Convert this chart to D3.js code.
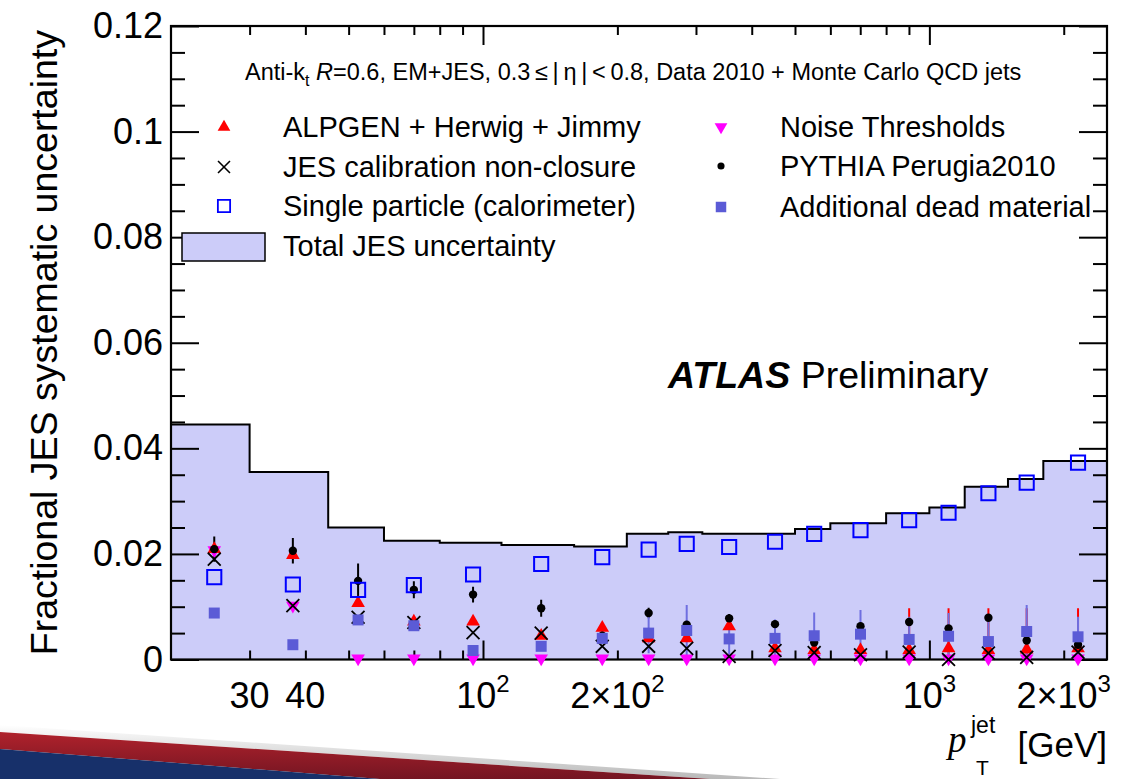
<!DOCTYPE html>
<html>
<head>
<meta charset="utf-8">
<script src="https://cdn.jsdelivr.net/npm/d3@7"></script>
<style>
  body { margin: 0; background: #fff; }
  svg { display: block; font-family: "Liberation Sans", Arial, Helvetica, sans-serif; }
</style>
</head>
<body>
<svg id="chart" width="1121" height="779"></svg>
<script>
// ---------------- DATA ----------------
const binEdges = [20, 30, 45, 60, 80, 110, 160, 210, 260, 310, 400, 500, 600, 800, 1000, 1200, 1500, 1800, 2500];
const binCenters = [25, 37.5, 52.5, 70, 95, 135, 185, 235, 286, 356, 451, 552, 701, 901, 1104, 1356, 1652, 2153];
const totalJES = [0.0445, 0.0355, 0.0250, 0.0225, 0.0221, 0.0217, 0.0214, 0.0238, 0.0241, 0.0238, 0.0238, 0.0247, 0.0258, 0.0277, 0.0288, 0.0327, 0.0342, 0.0376];
const singleParticle = [0.0156, 0.0142, 0.0132, 0.0141, 0.0161, 0.0181, 0.0194, 0.0208, 0.0219, 0.0213, 0.0223, 0.0238, 0.0245, 0.0264, 0.0278, 0.0315, 0.0335, 0.0373];
const alpgen = [0.0209, 0.0198, 0.0107, 0.0072, 0.0072, 0.0045, 0.0060, 0.0040, 0.0040, 0.0063, 0.0021, 0.0018, 0.0018, 0.0018, 0.0021, 0.0018, 0.0019, 0.0021];
const alpgenErr = [0, 0, 0, 0, 0, 0, 0, 0, 0, 0, 0, 0, 0, 0.0079, 0.0076, 0.0079, 0.0078, 0.0076];
const noiseThresholds = [0.0207, 0.0102, 0.0002, 0.0002, 0.0002, 0.0002, 0.0002, 0.0002, 0.0002, 0.0002, 0.0002, 0.0002, 0.0002, 0.0002, 0.0002, 0.0002, 0.0002, 0.0002];
const nonClosure = [0.0190, 0.0102, 0.0080, 0.0070, 0.0051, 0.0050, 0.0025, 0.0025, 0.0021, 0.0006, 0.0017, 0.0013, 0.0009, 0.0014, 0.0000, 0.0012, 0.0004, 0.0014];
const pythia = [0.0209, 0.0206, 0.0149, 0.0132, 0.0123, 0.0097, 0.0045, 0.0088, 0.0066, 0.0078, 0.0067, 0.0032, 0.0063, 0.0071, 0.0059, 0.0079, 0.0036, 0.0028];
const pythiaErr = [0.0024, 0.0024, 0.0033, 0.0016, 0.0015, 0.0016, 0.0008, 0.0010, 0.0006, 0.0008, 0.0005, 0.0005, 0.0004, 0.0004, 0.0004, 0.0004, 0.0004, 0.0004];
const deadMaterial = [0.0088, 0.0028, 0.0075, 0.0064, 0.0017, 0.0025, 0.0040, 0.0050, 0.0055, 0.0039, 0.0040, 0.0045, 0.0048, 0.0038, 0.0044, 0.0034, 0.0053, 0.0043];
const deadErr = [0, 0, 0, 0, 0.0005, 0.0005, 0.0008, 0.0038, 0.0048, 0.0030, 0.0036, 0.0044, 0.0046, 0.0043, 0.0044, 0.0047, 0.0050, 0.0038];

const yMajorTicks = [0, 0.02, 0.04, 0.06, 0.08, 0.1, 0.12];
const yTickLabels = ["0", "0.02", "0.04", "0.06", "0.08", "0.1", "0.12"];
const xMajorTicks = [100, 1000];
const xMinorTicks = [30, 40, 50, 60, 70, 80, 90, 200, 300, 400, 500, 600, 700, 800, 900, 2000];
const xTickLabels = [
  { v: 30, base: "30", sup: "" }, { v: 40, base: "40", sup: "" },
  { v: 100, base: "10", sup: "2" }, { v: 200, base: "2\u00d710", sup: "2" },
  { v: 1000, base: "10", sup: "3" }, { v: 2000, base: "2\u00d710", sup: "3" }
];

// ---------------- LAYOUT ----------------
const svg = d3.select("#chart");
const L = 171, R = 1107, T = 26, B = 659.5;
const x = d3.scaleLog().domain([20, 2500]).range([L, R]);
const y = d3.scaleLinear().domain([0, 0.12]).range([B, T]);

const FILL = "#ccccf9", DEAD = "#5b5bd6";

// background slide banner
const defs = svg.append("defs");
const sh = defs.append("linearGradient").attr("id", "shadow").attr("x1", 0).attr("y1", 0).attr("x2", 0).attr("y2", 1);
sh.append("stop").attr("offset", "0%").attr("stop-color", "#ffffff");
sh.append("stop").attr("offset", "100%").attr("stop-color", "#8a8a8a");
const rg = defs.append("linearGradient").attr("id", "redg").attr("x1", 0).attr("y1", 0).attr("x2", 0).attr("y2", 1);
rg.append("stop").attr("offset", "0%").attr("stop-color", "#b0222c");
rg.append("stop").attr("offset", "100%").attr("stop-color", "#741522");
svg.append("path").attr("d", "M0,725 L780,779 L710,779 L0,732 Z").attr("fill", "url(#shadow)").attr("opacity", 0.6);
svg.append("path").attr("d", "M0,732 L710,779 L380,779 L0,749 Z").attr("fill", "url(#redg)");
svg.append("path").attr("d", "M0,749 L380,779 L0,779 Z").attr("fill", "#17306a");

defs.append("clipPath").attr("id", "plotclip").append("rect")
  .attr("x", L).attr("y", T).attr("width", R - L).attr("height", B - T);

// total JES uncertainty band
const stepData = binEdges.map((e, i) => [e, i < totalJES.length ? totalJES[i] : totalJES[totalJES.length - 1]]);
svg.append("path")
  .datum(stepData)
  .attr("d", d3.area().curve(d3.curveStepAfter).x(d => x(d[0])).y0(y(0)).y1(d => y(d[1])))
  .attr("fill", FILL);
svg.append("path")
  .datum(stepData)
  .attr("d", d3.line().curve(d3.curveStepAfter).x(d => x(d[0])).y(d => y(d[1])))
  .attr("fill", "none").attr("stroke", "#000").attr("stroke-width", 2);

// axes (ROOT style, ticks inward on all four sides)
const gAx = svg.append("g");
function styleAxis(g) {
  g.select(".domain").remove();
  g.selectAll("line").attr("stroke", "#000").attr("stroke-width", 2);
}
gAx.append("g").attr("transform", `translate(0,${B})`)
  .call(d3.axisBottom(x).tickValues(xMajorTicks).tickSize(-19).tickFormat("")).call(styleAxis);
gAx.append("g").attr("transform", `translate(0,${B})`)
  .call(d3.axisBottom(x).tickValues(xMinorTicks).tickSize(-9).tickFormat("")).call(styleAxis);
gAx.append("g").attr("transform", `translate(0,${T})`)
  .call(d3.axisTop(x).tickValues(xMajorTicks).tickSize(-19).tickFormat("")).call(styleAxis);
gAx.append("g").attr("transform", `translate(0,${T})`)
  .call(d3.axisTop(x).tickValues(xMinorTicks).tickSize(-9).tickFormat("")).call(styleAxis);
const yMinor = d3.range(0, 0.1201, 0.005).filter(v => Math.abs(v / 0.02 - Math.round(v / 0.02)) > 1e-6);
gAx.append("g").attr("transform", `translate(${L},0)`)
  .call(d3.axisLeft(y).tickValues(yMajorTicks).tickSize(-28).tickPadding(8).tickFormat((d, i) => yTickLabels[i]))
  .call(styleAxis)
  .call(g => g.selectAll("text").attr("font-size", 36).attr("fill", "#000").attr("font-family", "Liberation Sans, Arial, sans-serif"));
gAx.append("g").attr("transform", `translate(${L},0)`)
  .call(d3.axisLeft(y).tickValues(yMinor).tickSize(-14).tickFormat("")).call(styleAxis);
gAx.append("g").attr("transform", `translate(${R},0)`)
  .call(d3.axisRight(y).tickValues(yMajorTicks).tickSize(-28).tickFormat("")).call(styleAxis);
gAx.append("g").attr("transform", `translate(${R},0)`)
  .call(d3.axisRight(y).tickValues(yMinor).tickSize(-14).tickFormat("")).call(styleAxis);

// frame
svg.append("rect").attr("x", L).attr("y", T).attr("width", R - L).attr("height", B - T)
  .attr("fill", "none").attr("stroke", "#000").attr("stroke-width", 2.2);

// x tick labels
const xl = svg.append("g").attr("font-size", 36).attr("fill", "#000");
xTickLabels.forEach(t => {
  const txt = xl.append("text").attr("x", x(t.v)).attr("y", 708).attr("text-anchor", "middle");
  txt.append("tspan").text(t.base);
  if (t.sup) txt.append("tspan").attr("dy", -16).attr("font-size", 24).text(t.sup);
});

// axis titles
svg.append("text")
  .attr("transform", `translate(57,${T + 4}) rotate(-90)`)
  .attr("text-anchor", "end").attr("font-size", 37.5).attr("fill", "#000")
  .text("Fractional JES systematic uncertainty");
const xt = svg.append("g").attr("fill", "#000");
xt.append("text").attr("x", R).attr("y", 757).attr("text-anchor", "end").attr("font-size", 35).text("[GeV]");
xt.append("text").attr("x", 948).attr("y", 752).attr("font-size", 37)
  .attr("font-family", "Liberation Serif, Times New Roman, serif").attr("font-style", "italic").text("p");
xt.append("text").attr("x", 971).attr("y", 733).attr("font-size", 23).text("jet");
xt.append("text").attr("x", 976).attr("y", 775).attr("font-size", 21).text("T");

// ---------------- MARKERS ----------------
const sym = (type, size) => d3.symbol().type(type).size(size)();
const plot = svg.append("g");
const clipG = plot.append("g").attr("clip-path", "url(#plotclip)");

function errBars(vals, errs, color, width) {
  clipG.append("g").selectAll("line").data(binCenters.map((c, i) => ({ c, v: vals[i], e: errs[i] })).filter(d => d.e > 0))
    .join("line")
    .attr("x1", d => x(d.c)).attr("x2", d => x(d.c))
    .attr("y1", d => y(Math.max(0, d.v - d.e))).attr("y2", d => y(d.v + d.e))
    .attr("stroke", color).attr("stroke-width", width);
}
function markers(vals, path, attrs) {
  const g = plot.append("g");
  const s = g.selectAll("path").data(binCenters.map((c, i) => ({ c, v: vals[i] })))
    .join("path").attr("d", path)
    .attr("transform", d => `translate(${x(d.c)},${y(d.v)})` + (attrs.rot ? " rotate(180)" : ""));
  Object.entries(attrs).forEach(([k, v]) => { if (k !== "rot") s.attr(k, v); });
}

const triUp = sym(d3.symbolTriangle, 80);
const crossX = sym(d3.symbolTimes, 110);
const sqOpen = sym(d3.symbolSquare, 200);
const sqFill = sym(d3.symbolSquare, 121);
const dot = sym(d3.symbolCircle, 55);

// noise thresholds
markers(noiseThresholds, triUp, { fill: "#ff00ff", rot: true });
// ALPGEN
errBars(alpgen, alpgenErr, "#ff0000", 2);
markers(alpgen, triUp, { fill: "#ff0000" });
// PYTHIA
errBars(pythia, pythiaErr, "#000", 2);
markers(pythia, dot, { fill: "#000" });
// JES non-closure
markers(nonClosure, crossX, { fill: "none", stroke: "#000", "stroke-width": 1.8 });
// single particle
markers(singleParticle, sqOpen, { fill: "none", stroke: "#0000ff", "stroke-width": 2 });
// dead material
errBars(deadMaterial, deadErr, "#6f6fe0", 2);
markers(deadMaterial, sqFill, { fill: DEAD });

// ---------------- TEXT / LEGEND ----------------
const hdr = svg.append("text").attr("x", 245).attr("y", 80).attr("font-size", 23.5).attr("fill", "#000");
hdr.append("tspan").text("Anti-k");
hdr.append("tspan").attr("dy", 6).attr("font-size", 16).text("t");
hdr.append("tspan").attr("dy", -6).text(" ");
hdr.append("tspan").attr("font-style", "italic").text("R");
hdr.append("tspan").text("=0.6, EM+JES, 0.3\u2009\u2264\u2009|\u2009\u03b7\u2009|\u2009<\u20090.8, Data 2010 + Monte Carlo QCD jets");

const leg = svg.append("g").attr("font-size", 29).attr("fill", "#000");
const legItems = [
  { x: 224, y: 127, label: "ALPGEN + Herwig + Jimmy", d: sym(d3.symbolTriangle, 70), attrs: { fill: "#ff0000" } },
  { x: 224, y: 167, label: "JES calibration non-closure", d: sym(d3.symbolTimes, 95), attrs: { fill: "none", stroke: "#000", "stroke-width": 1.6 } },
  { x: 224, y: 206, label: "Single particle (calorimeter)", d: sym(d3.symbolSquare, 150), attrs: { fill: "none", stroke: "#0000ff", "stroke-width": 1.8 } },
  { x: 721, y: 127, label: "Noise Thresholds", d: sym(d3.symbolTriangle, 70), attrs: { fill: "#ff00ff" }, rot: true },
  { x: 721, y: 166, label: "PYTHIA Perugia2010", d: sym(d3.symbolCircle, 40), attrs: { fill: "#000" } },
  { x: 721, y: 207, label: "Additional dead material", d: sym(d3.symbolSquare, 110), attrs: { fill: DEAD } }
];
legItems.forEach(it => {
  const p = leg.append("path").attr("d", it.d).attr("transform", `translate(${it.x},${it.y})` + (it.rot ? " rotate(180)" : ""));
  Object.entries(it.attrs).forEach(([k, v]) => p.attr(k, v));
  leg.append("text").attr("x", it.x + 59).attr("y", it.y + 10).text(it.label);
});
leg.append("rect").attr("x", 182).attr("y", 233).attr("width", 83).attr("height", 28)
  .attr("fill", FILL).attr("stroke", "#000").attr("stroke-width", 1.5);
leg.append("text").attr("x", 283).attr("y", 256).text("Total JES uncertainty");

const atl = svg.append("text").attr("x", 668).attr("y", 388).attr("font-size", 37.5).attr("fill", "#000");
atl.append("tspan").attr("font-weight", "bold").attr("font-style", "italic").text("ATLAS");
atl.append("tspan").text(" Preliminary");
</script>
</body>
</html>
